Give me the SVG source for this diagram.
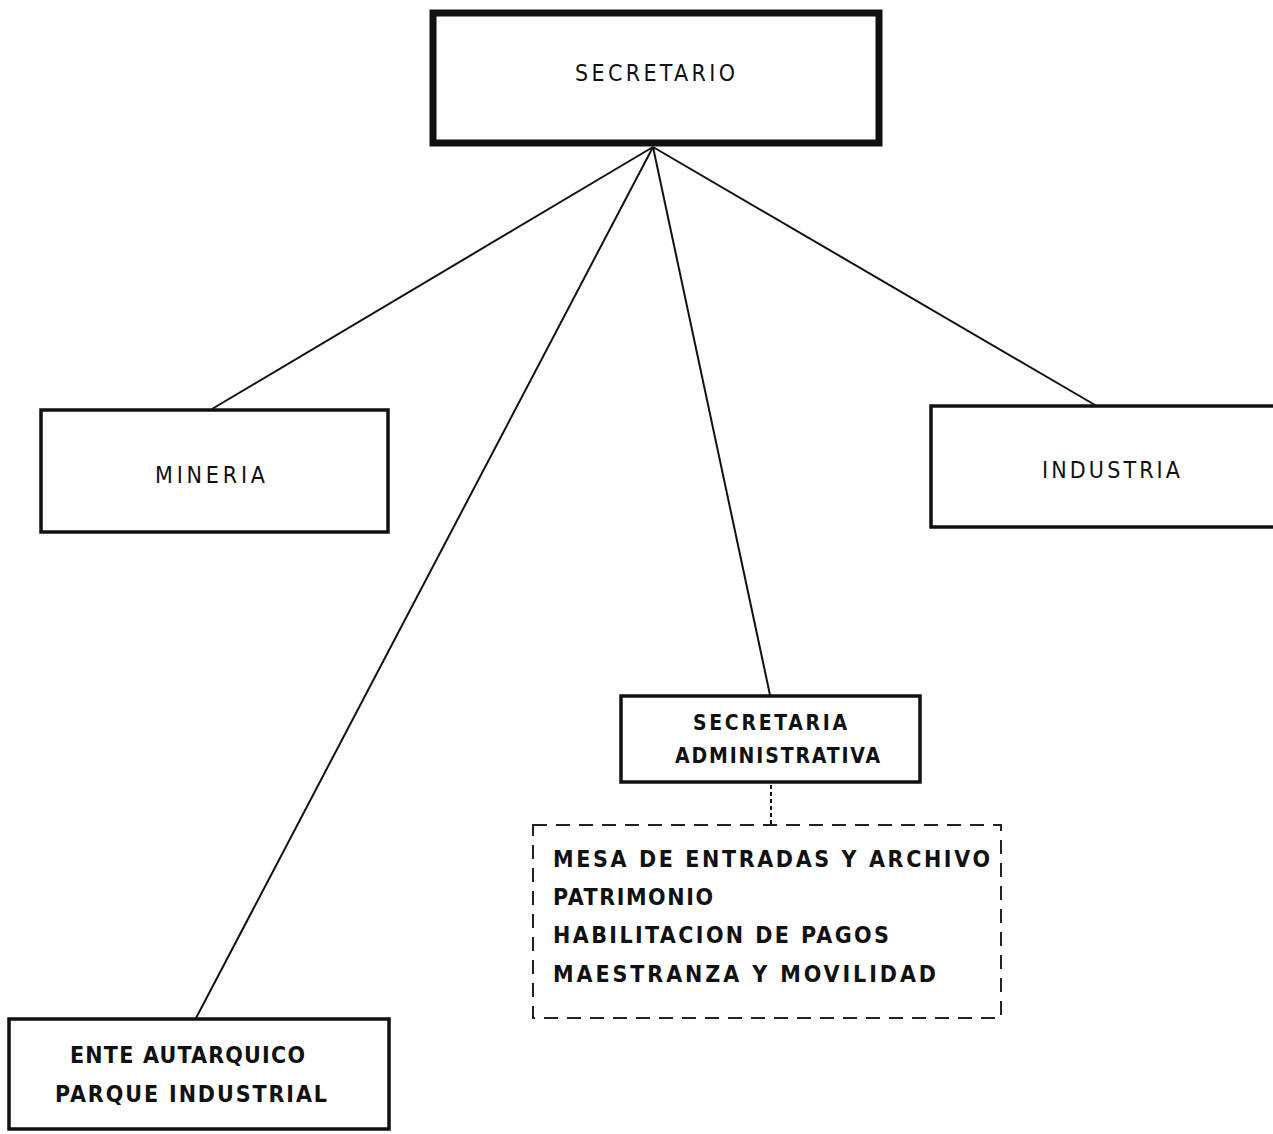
<svg xmlns="http://www.w3.org/2000/svg" width="1273" height="1134" viewBox="0 0 1273 1134">
<style>
.box{fill:#fff;stroke:#111;stroke-width:3.5}
.main{fill:#fff;stroke:#111;stroke-width:7}
.dash{fill:none;stroke:#222;stroke-width:2;stroke-dasharray:14 9}
.lbl{font-family:"DejaVu Sans Condensed","DejaVu Sans","Liberation Sans",sans-serif;fill:#111}
.con{stroke:#111;stroke-width:2;fill:none}
</style>
<rect width="1273" height="1134" fill="#fff"/>
<g id="connectors">
<line class="con" x1="653" y1="147" x2="212" y2="409"/>
<line class="con" x1="653" y1="147" x2="195" y2="1020"/>
<line class="con" x1="653" y1="147" x2="770" y2="695"/>
<line class="con" x1="653" y1="147" x2="1095" y2="405"/>
<line class="con" x1="771" y1="785" x2="771" y2="825" stroke-dasharray="4 3" stroke-width="1.5"/>
</g>
<g id="secretario">
<rect class="main" x="433" y="13" width="446" height="130"/>
<text class="lbl" x="575" y="81" font-size="23" textLength="160" lengthAdjust="spacing">SECRETARIO</text>
</g>
<g id="mineria">
<rect class="box" x="41" y="410" width="347" height="122"/>
<text class="lbl" x="155" y="483" font-size="23" textLength="110" lengthAdjust="spacing">MINERIA</text>
</g>
<g id="industria">
<rect class="box" x="931" y="406" width="350" height="121"/>
<text class="lbl" x="1042" y="478" font-size="23" textLength="138" lengthAdjust="spacing">INDUSTRIA</text>
</g>
<g id="secretaria-administrativa">
<rect class="box" x="621" y="696" width="299" height="86"/>
<text class="lbl" x="693" y="730" font-size="21" font-weight="bold" textLength="154" lengthAdjust="spacing">SECRETARIA</text>
<text class="lbl" x="675" y="763" font-size="21" font-weight="bold" textLength="205" lengthAdjust="spacing">ADMINISTRATIVA</text>
</g>
<g id="dependencias">
<rect class="dash" x="533" y="825" width="468" height="193"/>
<text class="lbl" x="553" y="867" font-size="23" font-weight="bold" textLength="437" lengthAdjust="spacing">MESA DE ENTRADAS Y ARCHIVO</text>
<text class="lbl" x="553" y="905" font-size="23" font-weight="bold" textLength="160" lengthAdjust="spacing">PATRIMONIO</text>
<text class="lbl" x="553" y="943" font-size="23" font-weight="bold" textLength="336" lengthAdjust="spacing">HABILITACION DE PAGOS</text>
<text class="lbl" x="553" y="982" font-size="23" font-weight="bold" textLength="383" lengthAdjust="spacing">MAESTRANZA Y MOVILIDAD</text>
</g>
<g id="ente-autarquico">
<rect class="box" x="9" y="1019" width="380" height="110"/>
<text class="lbl" x="70" y="1063" font-size="23" font-weight="bold" textLength="235" lengthAdjust="spacing">ENTE AUTARQUICO</text>
<text class="lbl" x="55" y="1102" font-size="23" font-weight="bold" textLength="272" lengthAdjust="spacing">PARQUE INDUSTRIAL</text>
</g>
</svg>
